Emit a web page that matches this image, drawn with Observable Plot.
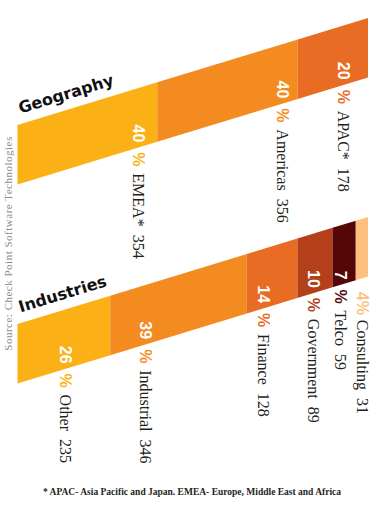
<!DOCTYPE html>
<html>
<head>
<meta charset="utf-8">
<script src="https://cdn.jsdelivr.net/npm/d3@7"></script>
<script src="https://cdn.jsdelivr.net/npm/@observablehq/plot@0.6"></script>
<style>
  body { margin: 0; background: #fff; width: 384px; }
  #note { font-family: "Liberation Serif", serif; font-weight: bold; font-size: 9.5px; color: #231f20;
          text-align: center; line-height: 20px; white-space: nowrap; }
</style>
</head>
<body>
<div id="chart"></div>
<div id="note"></div>
<script>
// ---------- data ----------
const groups = ["Geography", "Industries"];
const geoNames = ["EMEA*", "Americas", "APAC*"];
const geoCounts = [354, 356, 178];
const geoPct = [40, 40, 20];
const indNames = ["Other", "Industrial", "Finance", "Government", "Telco", "Consulting"];
const indCounts = [235, 346, 128, 89, 59, 31];
const indPct = [26, 39, 14, 10, 7, 4];
const geoColors = ["#fbb116", "#f38b20", "#e96c24"];
const indColors = ["#fbb116", "#f38b20", "#e96c24", "#b4401a", "#560606", "#fec07f"];
const sourceText = "Source: Check Point Software Technologies";
const footnote = "* APAC- Asia Pacific and Japan. EMEA- Europe, Middle East and Africa";

// ---------- layout (pixels) ----------
const W = 384, H = 482;
const bandLeft = 17.5, bandRight = 368;
const bandTop = {Geography: 125, Industries: 324};
const bandHeight = 59.5;
const rise = 107;                       // how much each band climbs over its length
const angle = Math.atan(rise / (bandRight - bandLeft)) * 180 / Math.PI;
const labelNudge = {Geography: [19.5, 16, 25], Industries: [45.6, 102, 34.5, 19.6, 16, 6]};

const total = d3.sum(geoCounts);
const pxPerUnit = (bandRight - bandLeft) / total;
const topAt = (g, v) => bandTop[g] - rise * v / total;
const bottomAt = (g, v) => topAt(g, v) + bandHeight;

function build(group, names, counts, pcts, colors) {
  let cum = 0;
  return names.map((name, i) => {
    const start = cum; cum += counts[i];
    const end = cum;
    const inside = (end - start) * pxPerUnit >= 14;
    const lx = end - labelNudge[group][i] / pxPerUnit;
    const edge = bottomAt(group, lx);
    return {group, name, count: counts[i], pct: pcts[i], color: colors[i], start, end, inside, lx, edge,
            pctY: inside ? edge + 4 : edge + 13,
            nameY: inside ? edge + 25 : edge + 41};
  });
}
const segments = [
  ...build("Geography", geoNames, geoCounts, geoPct, geoColors),
  ...build("Industries", indNames, indCounts, indPct, indColors)
];
const areaPts = segments.flatMap(s => [s.start, s.end].map(v => ({
  key: s.group + s.name, x: v, y1: topAt(s.group, v), y2: bottomAt(s.group, v), color: s.color
})));

const sans = "'Liberation Sans', Arial, sans-serif";
const serif = "'Liberation Serif', 'Times New Roman', serif";

const chart = Plot.plot({
  width: W, height: H,
  margin: 0,
  style: {background: "#fff"},
  x: {domain: [0, total], range: [bandLeft, bandRight], axis: null},
  y: {type: "identity", axis: null},
  color: {type: "identity"},
  marks: [
    Plot.area(areaPts, {x1: "x", y1: "y1", y2: "y2", z: "key", fill: "color", curve: "linear"}),
    Plot.text(segments.filter(d => d.inside), {
      x: "lx", y: d => d.edge - 6, text: d => String(d.pct), rotate: 90,
      textAnchor: "end", lineAnchor: "middle", fill: "#fff",
      fontSize: 16, fontWeight: "bold", fontFamily: sans
    }),
    Plot.text(segments, {
      x: "lx", y: "pctY", text: d => d.inside ? "%" : d.pct + "%", rotate: 90,
      textAnchor: "start", lineAnchor: "middle", fill: "color",
      fontSize: 16, fontWeight: "bold", fontFamily: sans
    }),
    Plot.text(segments, {
      x: "lx", y: "nameY", text: d => d.name + "\u2002" + d.count, rotate: 90,
      textAnchor: "start", lineAnchor: "middle", fill: "#231f20",
      fontSize: 16, fontFamily: serif
    }),
    Plot.text(groups, {
      x: () => 0, y: d => bandTop[d], text: d => d, rotate: -angle,
      textAnchor: "start", lineAnchor: "bottom", dx: 2.5, dy: -12,
      fill: "#111", fontSize: 16, fontWeight: "bold", fontFamily: "'DejaVu Sans', sans-serif"
    }),
    Plot.text([sourceText], {
      frameAnchor: "left", text: d => d, rotate: -90, dx: 8, dy: 2,
      textAnchor: "middle", lineAnchor: "middle", fill: "#8c8c8c",
      fontSize: 11, fontFamily: serif
    })
  ]
});
d3.select(chart).selectAll("text").filter(function() { return this.textContent === sourceText; })
  .style("letter-spacing", "0.5px");
document.getElementById("chart").appendChild(chart);
document.getElementById("note").textContent = footnote;
</script>
</body>
</html>
